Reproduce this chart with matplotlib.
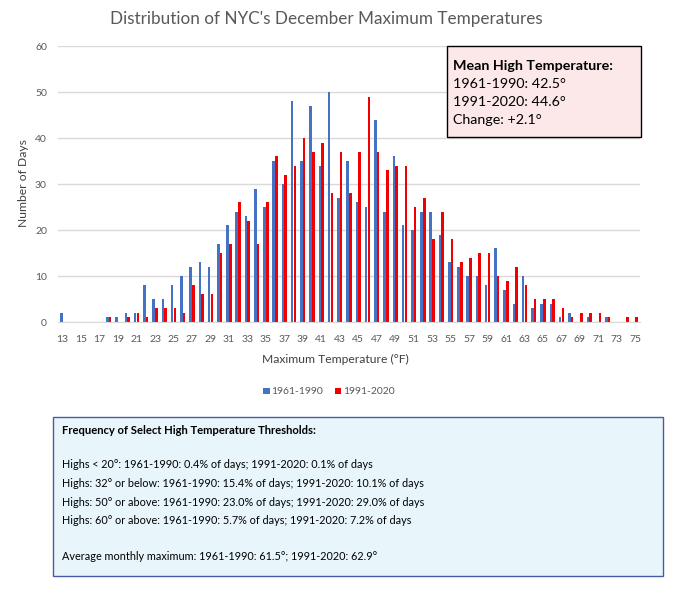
import numpy as np
import matplotlib.pyplot as plt
from matplotlib.patches import Rectangle

plt.rcParams['font.family'] = ['Lato', 'DejaVu Sans']

# Temperature categories (°F) and day counts
temps = list(range(13, 76))
days_1961_1990 = [2, 0, 0, 0, 0, 1, 1, 2, 2, 8,
                  5, 5, 8, 10, 12, 13, 12, 17, 21, 24,
                  23, 29, 25, 35, 30, 48, 35, 47, 34, 50,
                  27, 35, 26, 25, 44, 24, 36, 21, 20, 24,
                  24, 19, 13, 12, 10, 10, 8, 16, 7, 4,
                  10, 3, 4, 4, 1, 2, 0, 1, 0, 1,
                  0, 0, 0]
days_1991_2020 = [0, 0, 0, 0, 0, 1, 0, 1, 2, 1,
                  3, 3, 3, 2, 8, 6, 6, 15, 17, 26,
                  22, 17, 26, 36, 32, 34, 40, 37, 39, 28,
                  37, 28, 37, 49, 37, 33, 34, 34, 25, 27,
                  18, 24, 18, 13, 14, 15, 15, 10, 9, 12,
                  8, 5, 5, 5, 3, 1, 2, 2, 2, 1,
                  0, 1, 1]
tick_temps = list(range(13, 76, 2))

series_labels = ['1961-1990', '1991-2020']
series_colors = ['#4472C4', '#F00000']

mean_lines = ['1961-1990: 42.5°', '1991-2020: 44.6°', 'Change: +2.1°']
freq_lines = [
    'Highs < 20°: 1961-1990: 0.4% of days; 1991-2020: 0.1% of days',
    'Highs: 32° or below: 1961-1990: 15.4% of days; 1991-2020: 10.1% of days',
    'Highs: 50° or above: 1961-1990: 23.0% of days; 1991-2020: 29.0% of days',
    'Highs: 60° or above: 1961-1990: 5.7% of days; 1991-2020: 7.2% of days',
]
avg_line = 'Average monthly maximum: 1961-1990: 61.5°; 1991-2020: 62.9°'

W, H = 692, 606
fig = plt.figure(figsize=(W / 100, H / 100), dpi=100)
ax = fig.add_axes([58 / W, 1 - 322 / H, (640 - 58) / W, (322 - 46) / H])

x = np.array(temps)
bw = 0.28
ax.bar(x - 0.15, days_1961_1990, width=bw, color=series_colors[0], label=series_labels[0])
ax.bar(x + 0.15, days_1991_2020, width=bw, color=series_colors[1], label=series_labels[1])

ax.set_xlim(12.5, 75.5)
ax.set_ylim(0, 60)
ax.set_yticks(range(0, 61, 10))
ax.set_xticks(tick_temps)
ax.grid(axis='y', color='#d9d9d9', linewidth=1)
ax.set_axisbelow(True)
for s in ['top', 'right', 'left']:
    ax.spines[s].set_visible(False)
ax.spines['bottom'].set_color('#d9d9d9')
ax.tick_params(axis='both', length=0, labelsize=7.5, labelcolor='#595959')
ax.tick_params(axis='y', pad=8)
ax.tick_params(axis='x', pad=9)

# axis titles and chart title
fig.text(335 / W, 1 - 359 / H, 'Maximum Temperature (°F)', ha='center', va='center',
         fontsize=8.7, color='#404040')
fig.text(24 / W, 1 - 183 / H, 'Number of Days', ha='center', va='center',
         rotation=90, fontsize=8.7, color='#404040')
fig.text(326 / W, 1 - 19 / H, "Distribution of NYC's December Maximum Temperatures",
         ha='center', va='center', fontsize=12.3, color='#595959')

fig.legend(loc='center', bbox_to_anchor=(329 / W, 1 - 392 / H), ncol=2, frameon=False,
           fontsize=7.5, handlelength=0.6, handleheight=0.6, columnspacing=1.1,
           handletextpad=0.2, borderpad=0, labelcolor='#595959')

# Mean high temperature box
fig.patches.append(Rectangle((447 / W, 1 - 137 / H), (641 - 447) / W, (137 - 46) / H,
                             transform=fig.transFigure, facecolor='#FCE8E8',
                             edgecolor='black', linewidth=1, zorder=3))
fig.text(453 / W, 1 - 66 / H, 'Mean High Temperature:', fontsize=10.3, fontweight='bold',
         va='center', color='black', zorder=4)
for i, line in enumerate(mean_lines):
    fig.text(453 / W, 1 - (84 + 18 * i) / H, line, fontsize=10.3, va='center', zorder=4)

# Threshold frequency box
fig.patches.append(Rectangle((53 / W, 1 - 576 / H), (663 - 53) / W, (576 - 417) / H,
                             transform=fig.transFigure, facecolor='#E8F6FC',
                             edgecolor='#4A5AA8', linewidth=1, zorder=3))
fig.text(62 / W, 1 - 431 / H, 'Frequency of Select High Temperature Thresholds:',
         fontsize=8.1, fontweight='bold', va='center', zorder=4)
for i, line in enumerate(freq_lines):
    fig.text(62 / W, 1 - (465 + 18.5 * i) / H, line, fontsize=7.8, va='center', zorder=4)
fig.text(62 / W, 1 - 557 / H, avg_line, fontsize=7.8, va='center', zorder=4)

fig.savefig('out.png', dpi=100, facecolor='white')
